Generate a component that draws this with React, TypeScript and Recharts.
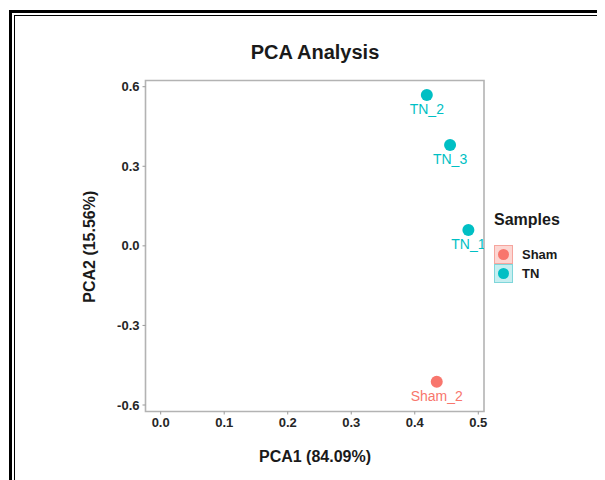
import React from 'react';
import { ScatterChart, Scatter, XAxis, YAxis, ReferenceArea, Legend } from 'recharts';

const seriesNames = ['Sham', 'TN'];
const seriesColors = ['#F8766D', '#00BFC4'];
const seriesKeyFill = ['#fcd6d2', '#c6eef0'];
const seriesKeyStroke = ['#f6a59e', '#7fd6da'];

const shamX = [0.4346];
const shamY = [-0.512];
const shamLabels = ['Sham_2'];

const tnX = [0.4844, 0.419, 0.4556];
const tnY = [0.06, 0.569, 0.38];
const tnLabels = ['TN_1', 'TN_2', 'TN_3'];

const xTicks = [0, 0.1, 0.2, 0.3, 0.4, 0.5];
const yTicks = [-0.6, -0.3, 0, 0.3, 0.6];
const xDomain = [-0.0239, 0.509];
const yDomain = [-0.6245, 0.6234];

const titleText = 'PCA Analysis';
const xTitle = 'PCA1 (84.09%)';
const yTitle = 'PCA2 (15.56%)';
const legendTitle = 'Samples';

const FONT = '"Liberation Sans", Arial, Helvetica, sans-serif';

const shamData = shamX.map((x, i) => ({ x, y: shamY[i], label: shamLabels[i] }));
const tnData = tnX.map((x, i) => ({ x, y: tnY[i], label: tnLabels[i] }));

const makeShape = (color: string) => (props: any) => {
  const { cx, cy, payload } = props;
  return (
    <g>
      <circle cx={cx} cy={cy} r={6} fill={color} />
      <text
        x={cx}
        y={cy + 19}
        textAnchor="middle"
        fontFamily={FONT}
        fontSize={14}
        fill={color}
      >
        {payload.label}
      </text>
    </g>
  );
};

const LegendContent = () => (
  <div style={{ fontFamily: FONT, color: '#1a1a1a', width: 110, whiteSpace: 'nowrap' }}>
    <div style={{ fontSize: 16, fontWeight: 'bold', lineHeight: '20px', height: 20 }}>{legendTitle}</div>
    <div style={{ marginTop: 15 }}>
      {seriesNames.map((name, i) => (
        <div key={name} style={{ display: 'flex', alignItems: 'center', height: 19 }}>
          <div
            style={{
              width: 17,
              height: 17,
              background: seriesKeyFill[i],
              border: `1px solid ${seriesKeyStroke[i]}`,
              display: 'flex',
              alignItems: 'center',
              justifyContent: 'center',
            }}
          >
            <div style={{ width: 11, height: 11, borderRadius: '50%', background: seriesColors[i] }} />
          </div>
          <span style={{ marginLeft: 9, fontSize: 13, fontWeight: 'bold' }}>{name}</span>
        </div>
      ))}
    </div>
  </div>
);

const tickStyle = { fontFamily: FONT, fontSize: 13, fontWeight: 'bold', fill: '#262626' };

export default function App() {
  return (
    <div
      style={{
        position: 'relative',
        width: 605,
        height: 480,
        margin: '-8px 0 0 -8px',
        overflow: 'hidden',
        background: '#fff',
      }}
    >
      <div
        style={{
          position: 'absolute',
          left: 9,
          top: 10,
          width: 800,
          height: 800,
          borderLeft: '3px solid #000',
          borderTop: '3px solid #000',
        }}
      />
      <div
        style={{
          position: 'absolute',
          left: 14,
          top: 15,
          width: 800,
          height: 800,
          borderLeft: '1px solid #000',
          borderTop: '1px solid #000',
        }}
      />
      <div style={{ position: 'absolute', left: 0, top: 0 }}>
        <ScatterChart
          width={605}
          height={480}
          margin={{ top: 80.5, right: 121, bottom: 40, left: 100 }}
        >
          <XAxis
            type="number"
            dataKey="x"
            domain={xDomain}
            ticks={xTicks}
            allowDataOverflow
            height={28.5}
            axisLine={false}
            tickLine={{ stroke: '#9a9a9a', strokeWidth: 1 }}
            tickSize={3}
            tickMargin={3}
            tick={tickStyle}
            tickFormatter={(v: number) => v.toFixed(1)}
          />
          <YAxis
            type="number"
            dataKey="y"
            domain={yDomain}
            ticks={yTicks}
            allowDataOverflow
            width={45.5}
            axisLine={false}
            tickLine={{ stroke: '#9a9a9a', strokeWidth: 1 }}
            tickSize={3}
            tickMargin={3}
            tick={tickStyle}
            tickFormatter={(v: number) => v.toFixed(1)}
          />
          <ReferenceArea
            x1={xDomain[0]}
            x2={xDomain[1]}
            y1={yDomain[0]}
            y2={yDomain[1]}
            fill="none"
            stroke="#b3b3b3"
            strokeWidth={1.6}
            ifOverflow="visible"
          />
          <Scatter
            name={seriesNames[0]}
            data={shamData}
            fill={seriesColors[0]}
            shape={makeShape(seriesColors[0])}
            isAnimationActive={false}
          />
          <Scatter
            name={seriesNames[1]}
            data={tnData}
            fill={seriesColors[1]}
            shape={makeShape(seriesColors[1])}
            isAnimationActive={false}
          />
          <Legend
            content={<LegendContent />}
            wrapperStyle={{
              position: 'absolute',
              left: 494,
              top: 210,
              width: 0,
              height: 0,
              overflow: 'visible',
            }}
          />
        </ScatterChart>
      </div>
      <svg
        width={605}
        height={480}
        style={{ position: 'absolute', left: 0, top: 0, pointerEvents: 'none' }}
      >
        <text x={315} y={59} textAnchor="middle" fontFamily={FONT} fontSize={20} fontWeight="bold" fill="#1a1a1a">
          {titleText}
        </text>
        <text x={315} y={462} textAnchor="middle" fontFamily={FONT} fontSize={16} fontWeight="bold" fill="#1a1a1a">
          {xTitle}
        </text>
        <text
          x={95}
          y={246.7}
          textAnchor="middle"
          fontFamily={FONT}
          fontSize={16}
          fontWeight="bold"
          fill="#1a1a1a"
          transform="rotate(-90, 95, 246.7)"
        >
          {yTitle}
        </text>
      </svg>
    </div>
  );
}
